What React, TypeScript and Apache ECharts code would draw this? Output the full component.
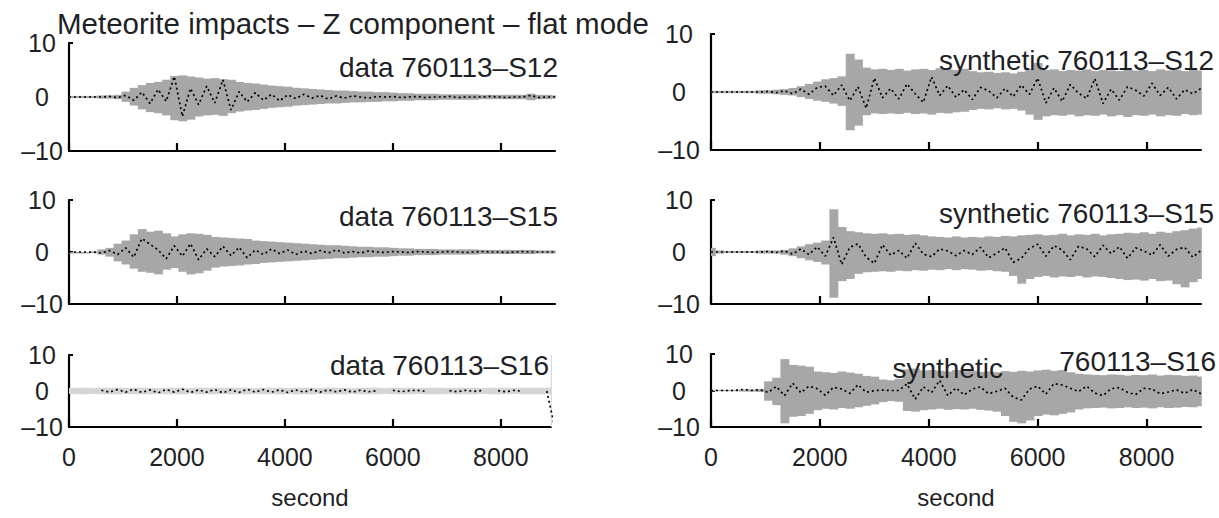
import React, { useEffect, useRef } from 'react';
import * as echarts from 'echarts';

// sample times (s)
const TIME = [
  0, 150, 300, 450, 600, 750, 900, 1050, 1200, 1350,
  1500, 1650, 1800, 1950, 2100, 2250, 2400, 2550, 2700, 2850,
  3000, 3150, 3300, 3450, 3600, 3750, 3900, 4050, 4200, 4350,
  4500, 4650, 4800, 4950, 5100, 5250, 5400, 5550, 5700, 5850,
  6000, 6150, 6300, 6450, 6600, 6750, 6900, 7050, 7200, 7350,
  7500, 7650, 7800, 7950, 8100, 8250, 8400, 8550, 8700, 8850,
  9000,
];
const X_TICKS = [0, 2000, 4000, 6000, 8000];
const Y_TICKS = [-10, 0, 10];

// ---- data 760113-S12 ----
const DATA_S12_HI = [
  0.2, 0.2, 0.2, 0.2, 0.3, 0.3, 0.4, 1.0, 1.7, 2.2,
  2.6, 2.8, 3.2, 3.9, 4.0, 3.8, 3.6, 3.4, 3.5, 3.3,
  3.2, 2.8, 2.6, 2.5, 2.3, 2.1, 2.0, 1.9, 1.7, 1.6,
  1.5, 1.4, 1.3, 1.2, 1.2, 1.1, 1.0, 1.0, 0.9, 0.9,
  0.8, 0.7, 0.7, 0.6, 0.6, 0.6, 0.5, 0.5, 0.5, 0.5,
  0.5, 0.4, 0.4, 0.4, 0.4, 0.4, 0.4, 0.6, 0.4, 0.4,
  0.3,
];
const DATA_S12_LO = [
  -0.2, -0.2, -0.2, -0.2, -0.3, -0.3, -0.4, -0.9, -1.6, -2.3,
  -2.8, -3.0, -3.4, -4.3, -4.5, -4.2, -3.6, -3.4, -3.3, -3.5,
  -3.0, -2.7, -2.5, -2.4, -2.2, -2.0, -1.9, -1.8, -1.6, -1.5,
  -1.4, -1.3, -1.2, -1.2, -1.1, -1.0, -1.0, -0.9, -0.9, -0.8,
  -0.8, -0.7, -0.7, -0.6, -0.6, -0.6, -0.5, -0.5, -0.5, -0.5,
  -0.5, -0.4, -0.4, -0.4, -0.4, -0.4, -0.4, -0.6, -0.4, -0.4,
  -0.3,
];
const DATA_S12_TRACE = [
  0, 0, 0, 0, 0, 0.1, -0.1, 0.3, -0.6, 0.9,
  -1.2, 1.4, -0.8, 3.8, -3.6, 1.6, -1.4, 2.0, -1.1, 3.2,
  -2.4, 1.0, -0.9, 0.8, -0.6, 0.5, -0.7, 0.4, -0.3, 0.5,
  -0.2, 0.3, -0.4, 0.2, -0.2, 0.2, 0, -0.2, 0.1, 0,
  0.1, -0.1, 0, 0.1, -0.1, 0, 0, 0.1, -0.1, 0,
  0, 0, 0.1, 0, -0.1, 0, 0, 0.3, -0.1, 0,
  0,
];

// ---- data 760113-S15 ----
const DATA_S15_HI = [
  0, 0, 0, 0.1, 0.5, 0.8, 1.6, 2.2, 3.4, 4.4,
  3.9, 4.1, 3.6, 3.0, 3.4, 3.6, 3.5, 3.3, 2.9, 2.8,
  2.7, 2.6, 2.5, 2.2, 2.1, 2.0, 1.9, 1.8, 1.7, 1.6,
  1.5, 1.4, 1.3, 1.3, 1.2, 1.1, 1.0, 1.0, 0.9, 0.9,
  0.8, 0.7, 0.7, 0.6, 0.6, 0.6, 0.5, 0.5, 0.5, 0.5,
  0.5, 0.4, 0.4, 0.4, 0.4, 0.4, 0.4, 0.4, 0.3, 0.3,
  0.3,
];
const DATA_S15_LO = [
  0, 0, 0, -0.1, -0.5, -0.9, -1.8, -2.4, -3.2, -3.8,
  -4.0, -4.3, -3.4, -3.1, -3.8, -4.3, -4.1, -3.6, -3.0, -2.8,
  -2.7, -2.6, -2.4, -2.3, -2.1, -2.0, -1.9, -1.8, -1.7, -1.6,
  -1.5, -1.4, -1.3, -1.2, -1.2, -1.1, -1.0, -1.0, -0.9, -0.9,
  -0.8, -0.7, -0.7, -0.6, -0.6, -0.6, -0.5, -0.5, -0.5, -0.5,
  -0.5, -0.4, -0.4, -0.4, -0.4, -0.4, -0.4, -0.4, -0.3, -0.3,
  -0.3,
];
const DATA_S15_TRACE = [
  0, 0, 0, 0, -0.2, 0.3, -0.5, 0.8, -1.0, 2.6,
  1.5, 0.4, -1.3, 1.2, -0.8, 1.6, -1.5, 0.6, -0.9, 1.1,
  -0.7, 0.9, -1.1, 0.4, -0.5, 0.6, -0.3, 0.4, -0.5, 0.2,
  -0.3, 0.3, -0.2, 0.4, -0.2, 0.1, -0.2, 0.2, 0, -0.1,
  0.1, 0, -0.1, 0.1, 0, -0.1, 0, 0.1, 0, -0.1,
  0, 0.1, 0, 0, -0.1, 0, 0.1, 0, 0, 0,
  0,
];

// ---- data 760113-S16 ----
const DATA_S16_HI = [
  0.8, 0.9, 0.9, 0.8, 0.9, 0.9, 0.9, 0.8, 0.9, 0.9,
  0.9, 0.8, 0.9, 0.9, 0.9, 0.8, 0.9, 0.9, 0.9, 0.8,
  0.9, 0.9, 0.9, 0.8, 0.9, 0.9, 0.9, 0.8, 0.9, 0.9,
  0.9, 0.8, 0.9, 0.9, 0.9, 0.8, 0.9, 0.9, 0.9, 0.8,
  0.9, 0.9, 0.9, 0.8, 0.9, 0.9, 0.9, 0.8, 0.9, 0.9,
  0.9, 0.8, 0.9, 0.9, 0.9, 0.8, 0.9, 0.9, 0.9, 0.9,
  10,
];
const DATA_S16_LO = [
  -0.8, -0.9, -0.9, -0.8, -0.9, -0.9, -0.9, -0.8, -0.9, -0.9,
  -0.9, -0.8, -0.9, -0.9, -0.9, -0.8, -0.9, -0.9, -0.9, -0.8,
  -0.9, -0.9, -0.9, -0.8, -0.9, -0.9, -0.9, -0.8, -0.9, -0.9,
  -0.9, -0.8, -0.9, -0.9, -0.9, -0.8, -0.9, -0.9, -0.9, -0.8,
  -0.9, -0.9, -0.9, -0.8, -0.9, -0.9, -0.9, -0.8, -0.9, -0.9,
  -0.9, -0.8, -0.9, -0.9, -0.9, -0.8, -0.9, -0.9, -0.9, -0.9,
  -10,
];
const DATA_S16_TRACE = [
  null, null, null, null, 0.2, -0.3, 0.4, -0.3, 0.5, -0.4,
  0.3, -0.5, 0.4, -0.3, 0.5, -0.4, 0.3, -0.3, 0.4, -0.5,
  0.3, -0.4, 0.5, -0.3, 0.4, -0.3, 0.3, -0.4, 0.3, -0.3,
  0.4, -0.3, 0.3, -0.2, 0.3, -0.3, 0.2, -0.2, 0.1, null,
  0.2, -0.2, 0.1, 0.2, -0.1, null, null, 0.1, -0.2, 0.2,
  -0.1, 0.1, null, 0.1, -0.2, 0.2, -0.1, null, null, 0,
  -10,
];

// ---- synthetic 760113-S12 ----
const SYN_S12_HI = [
  0.2, 0.2, 0.2, 0.2, 0.2, 0.2, 0.3, 0.3, 0.4, 0.5,
  0.7, 1.0, 1.4, 1.8, 2.2, 2.4, 2.7, 6.6, 5.6, 4.2,
  3.9, 4.0, 3.8, 4.0, 3.7, 3.9, 4.0, 3.8, 4.1, 3.9,
  3.8, 4.0, 3.6, 3.4, 3.5, 3.3, 3.4, 3.2, 3.5, 4.0,
  5.0, 3.8, 3.9, 3.6, 3.8, 3.7, 3.9, 3.6, 3.8, 3.7,
  3.6, 3.9, 3.7, 3.8, 3.6, 3.9, 3.7, 3.8, 3.6, 3.9,
  3.7,
];
const SYN_S12_LO = [
  -0.2, -0.2, -0.2, -0.2, -0.2, -0.2, -0.3, -0.3, -0.4, -0.5,
  -0.6, -0.9, -1.2, -1.5, -1.7, -2.0, -2.4, -6.6, -5.8, -4.0,
  -3.7, -3.8, -3.7, -3.8, -3.6, -3.8, -3.7, -3.9, -3.6, -3.7,
  -3.5, -3.4, -3.1, -2.9, -3.0, -2.8, -3.0, -2.9, -3.2, -3.9,
  -4.8, -4.2, -4.0, -4.1, -3.9, -4.2, -4.0, -4.1, -3.9, -4.2,
  -4.0, -4.3, -4.0, -4.1, -3.9, -4.2, -4.0, -4.1, -3.8, -4.0,
  -3.9,
];
const SYN_S12_TRACE = [
  0, 0, 0, 0, 0, 0, 0, 0.1, -0.1, 0.2,
  -0.3, 0.5, -0.4, 0.8, 1.0, -0.6, 1.2, -1.5, 0.9, -2.8,
  2.4, -1.0, 0.6, -1.2, 1.4, -0.3, -1.8, 2.6, -0.6, 1.1,
  -0.9, 0.4, -1.3, 0.8, 0.2, -1.0, 0.6, -0.8, 1.2, -0.4,
  2.4, -1.9, 0.7, -1.6, 1.3, -0.2, -1.1, 2.3, -2.0, 0.5,
  -1.4, 0.9, 0.3, -0.7, 1.5, -0.6, 0.8, -1.2, 0.4, -0.3,
  0.6,
];

// ---- synthetic 760113-S15 ----
const SYN_S15_HI = [
  0.8, 0.3, 0.2, 0.2, 0.2, 0.2, 0.3, 0.3, 0.3, 0.4,
  0.7, 1.1, 1.5, 1.8, 2.2, 8.2, 4.8, 4.0, 3.8, 3.6,
  3.5, 3.6, 3.4, 3.5, 3.3, 3.4, 3.2, 3.0, 2.9, 2.8,
  3.0, 2.8, 2.9, 2.8, 3.0, 2.9, 3.1, 3.0, 3.2, 3.3,
  3.4, 3.2, 3.3, 3.5, 3.2, 3.4, 3.3, 3.5, 3.2, 3.4,
  3.5, 3.7, 3.6, 3.8, 3.5, 3.9, 3.7, 4.0, 4.2, 4.5,
  4.7,
];
const SYN_S15_LO = [
  -0.8, -0.3, -0.2, -0.2, -0.2, -0.2, -0.3, -0.3, -0.3, -0.5,
  -0.8, -1.2, -1.6, -1.9, -2.4, -8.8, -5.6, -5.2, -4.2, -3.9,
  -3.8, -3.7, -3.8, -3.6, -3.7, -3.5, -3.6, -3.4, -3.5, -3.3,
  -3.5, -3.3, -3.4, -3.6, -3.5, -3.7, -3.8, -4.6, -6.1, -5.2,
  -4.8, -4.6, -4.9, -4.7, -4.8, -4.6, -4.9, -4.7, -4.8, -5.0,
  -5.2, -5.4, -5.3, -5.5, -5.2, -5.6, -5.5, -6.2, -6.8, -5.8,
  -5.2,
];
const SYN_S15_TRACE = [
  0, 0, 0, 0, 0, 0, 0, 0.1, -0.1, 0.2,
  -0.4, 0.6, -0.5, 1.0, -0.8, 2.8, -2.4, 0.9, 1.6, -1.0,
  -2.2, 1.4, -0.6, 0.3, -1.2, 1.7, -0.4, -0.9, 0.6, 0.2,
  -0.7, 0.3, -0.5, 0.9, -1.1, -0.2, 0.8, -2.0, -1.2, 0.7,
  1.5, -0.8, 1.2, 0.4, -1.5, 1.1, 0.6, -0.9, 1.3, -0.3,
  1.0, -1.2, 0.8, 0.2, -0.6, 1.4, -0.8, 0.5, 0.9, -1.0,
  0.3,
];

// ---- synthetic 760113-S16 ----
const SYN_S16_HI = [
  0.2, 0.2, 0.2, 0.2, 0.3, 0.3, 0.4, 2.5, 3.5, 8.6,
  7.0, 6.8, 6.5, 5.2, 5.0, 4.8, 5.2, 4.9, 4.6, 4.0,
  3.8, 3.0, 2.8, 3.2, 5.8, 6.0, 5.5, 5.6, 5.4, 5.2,
  5.6, 5.3, 5.4, 5.1, 5.2, 5.0, 5.3, 5.1, 5.4, 5.2,
  5.5, 5.7, 5.4, 5.6, 5.0, 4.6, 4.4, 4.3, 4.2, 4.4,
  4.3, 4.1, 4.3, 4.2, 4.4, 4.1, 4.3, 4.2, 4.0, 4.1,
  3.8,
];
const SYN_S16_LO = [
  -0.2, -0.2, -0.2, -0.2, -0.3, -0.3, -0.4, -2.8, -4.0, -9.0,
  -7.2, -7.0, -6.4, -5.4, -5.0, -5.2, -4.8, -5.0, -4.6, -4.2,
  -3.8, -3.2, -2.9, -3.1, -5.6, -5.8, -5.4, -5.2, -5.0, -5.3,
  -5.1, -5.2, -5.0, -5.3, -5.5, -5.8, -7.0, -8.6, -9.0, -8.2,
  -7.0, -6.6, -6.8, -6.4, -6.0, -5.2, -4.9, -4.8, -4.7, -4.9,
  -4.8, -4.6, -4.8, -4.7, -4.9, -4.6, -4.8, -4.7, -4.5, -4.6,
  -4.3,
];
const SYN_S16_TRACE = [
  0, 0, 0, 0, 0.3, 0, 0.2, -0.5, 1.1, -1.4,
  2.0, -0.6, 1.2, 0.5, -1.3, 0.9, 0.4, -0.8, 1.6, -0.5,
  0, 0.1, 0, 0, 1.8, -2.4, 1.0, -0.6, 2.8, -1.4,
  0.7, -1.2, 0.4, 1.0, -0.9, -0.2, 0.6, -1.8, -2.6, 0.4,
  1.2, -1.0, 1.9, 1.5, 0.6, -0.3, 1.2, -0.7, -1.4, 0.5,
  0.8, -0.5, -1.1, 0.6, 0.4, -0.9, -0.4, 0.2, -0.8, 0.3,
  -0.9,
];

const TITLE = 'Meteorite impacts – Z component – flat mode';
const X_NAME = 'second';

const FONT = '"Liberation Sans", Arial, Helvetica, sans-serif';
const TEXT_COLOR = '#1f1f26';
const HALF_STEP = 75;
const X_MAX = 9000;

const PANELS = [
  { hi: DATA_S12_HI, lo: DATA_S12_LO, tr: DATA_S12_TRACE, grid: { left: 69, top: 43, width: 486, height: 108 }, bottom: false, fill: '#a7a7a7', labelMargin: 27 },
  { hi: DATA_S15_HI, lo: DATA_S15_LO, tr: DATA_S15_TRACE, grid: { left: 69, top: 200, width: 486, height: 104 }, bottom: false, fill: '#a7a7a7', labelMargin: 27 },
  { hi: DATA_S16_HI, lo: DATA_S16_LO, tr: DATA_S16_TRACE, grid: { left: 69, top: 355, width: 482, height: 72 }, bottom: true, fill: '#d5d5d5', labelMargin: 27, xMax: 8930 },
  { hi: SYN_S12_HI, lo: SYN_S12_LO, tr: SYN_S12_TRACE, grid: { left: 711, top: 34, width: 490, height: 116 }, bottom: false, fill: '#a7a7a7', labelMargin: 32 },
  { hi: SYN_S15_HI, lo: SYN_S15_LO, tr: SYN_S15_TRACE, grid: { left: 711, top: 200, width: 490, height: 104 }, bottom: false, fill: '#a7a7a7', labelMargin: 32 },
  { hi: SYN_S16_HI, lo: SYN_S16_LO, tr: SYN_S16_TRACE, grid: { left: 711, top: 354, width: 490, height: 73 }, bottom: true, fill: '#a7a7a7', labelMargin: 32 },
];

const LABELS = [
  { text: 'data 760113–S12', x: 558, y: 67 },
  { text: 'data 760113–S15', x: 558, y: 216 },
  { text: 'data 760113–S16', x: 549, y: 365 },
  { text: 'synthetic 760113–S12', x: 1214, y: 60 },
  { text: 'synthetic 760113–S15', x: 1214, y: 213 },
  { text: 'synthetic', x: 1003, y: 368 },
  { text: '760113–S16', x: 1216, y: 361 },
];

function fmtY(v: number) {
  return v < 0 ? '–' + Math.abs(v) : String(v);
}
function fmtX(v: number) {
  return String(v);
}

export default function App() {
  const ref = useRef<HTMLDivElement>(null);

  useEffect(() => {
    if (!ref.current) return;
    const chart = echarts.init(ref.current, null, { renderer: 'svg' });

    const grids: any[] = [];
    const xAxes: any[] = [];
    const yAxes: any[] = [];
    const series: any[] = [];

    PANELS.forEach((p, i) => {
      const xMax = (p as any).xMax ?? X_MAX;
      grids.push({ ...p.grid, containLabel: false, outerBoundsMode: 'none' });
      xAxes.push({
        gridIndex: i,
        type: 'value',
        min: 0,
        max: xMax,
        interval: 2000,
        name: p.bottom ? X_NAME : '',
        nameLocation: 'middle',
        nameGap: 58,
        nameTextStyle: { fontSize: 24, fontFamily: FONT, color: TEXT_COLOR },
        axisLine: { show: true, onZero: false, lineStyle: { color: '#000', width: 2.2 } },
        axisTick: { show: true, inside: true, length: 8, customValues: X_TICKS, lineStyle: { color: '#000', width: 2.2 } },
        splitLine: { show: false },
        axisLabel: {
          show: p.bottom,
          customValues: X_TICKS,
          formatter: fmtX,
          fontSize: 25,
          fontFamily: FONT,
          color: TEXT_COLOR,
          margin: 17,
          lineHeight: 25,
        },
      });
      yAxes.push({
        gridIndex: i,
        type: 'value',
        min: -10,
        max: 10,
        interval: 10,
        axisLine: { show: true, onZero: false, lineStyle: { color: '#000', width: 2.2 } },
        axisTick: { show: true, inside: true, length: 4, customValues: Y_TICKS, lineStyle: { color: '#000', width: 2 } },
        splitLine: { show: false },
        axisLabel: {
          show: true,
          customValues: Y_TICKS,
          formatter: fmtY,
          fontSize: 25,
          fontFamily: FONT,
          color: TEXT_COLOR,
          align: 'center',
          verticalAlign: 'middle',
          margin: p.labelMargin,
        },
      });

      const fill = p.fill;
      series.push({
        type: 'custom',
        xAxisIndex: i,
        yAxisIndex: i,
        silent: true,
        z: 1,
        encode: { x: 0, y: [1, 2] },
        data: TIME.map((t, k) => [t, p.lo[k], p.hi[k]]),
        renderItem: (params: any, api: any) => {
          const t = api.value(0);
          const lo = api.value(1);
          const hi = api.value(2);
          const x0 = Math.max(0, t - HALF_STEP);
          const x1 = Math.min(xMax, t + HALF_STEP);
          const a = api.coord([x0, hi]);
          const b = api.coord([x1, lo]);
          return {
            type: 'rect',
            shape: { x: a[0], y: a[1], width: Math.max(b[0] - a[0] + 0.8, 1), height: Math.max(b[1] - a[1], 1.5) },
            style: { fill },
          };
        },
      });
      series.push({
        type: 'line',
        xAxisIndex: i,
        yAxisIndex: i,
        silent: true,
        z: 3,
        symbol: 'none',
        showSymbol: false,
        connectNulls: false,
        data: TIME.map((t, k) => [t, p.tr[k] === null ? '-' : p.tr[k]]),
        lineStyle: { color: '#000', width: 1.7, type: [2, 3] },
      });
    });

    const graphics: any[] = [
      {
        type: 'text',
        x: 57,
        y: 23,
        z: 10,
        style: {
          text: TITLE,
          fontSize: 29.5,
          fontFamily: FONT,
          fill: TEXT_COLOR,
          textAlign: 'left',
          textVerticalAlign: 'middle',
        },
      },
      ...LABELS.map((l) => ({
        type: 'text',
        x: l.x,
        y: l.y,
        z: 10,
        style: {
          text: l.text,
          fontSize: 28,
          fontFamily: FONT,
          fill: TEXT_COLOR,
          textAlign: 'right',
          textVerticalAlign: 'middle',
        },
      })),
    ];

    chart.setOption({
      animation: false,
      backgroundColor: '#fff',
      grid: grids,
      xAxis: xAxes,
      yAxis: yAxes,
      series,
      graphic: graphics,
    });

    return () => chart.dispose();
  }, []);

  return (
    <div
      ref={ref}
      style={{ position: 'fixed', left: 0, top: 0, width: 1219, height: 518, background: '#fff' }}
    />
  );
}
